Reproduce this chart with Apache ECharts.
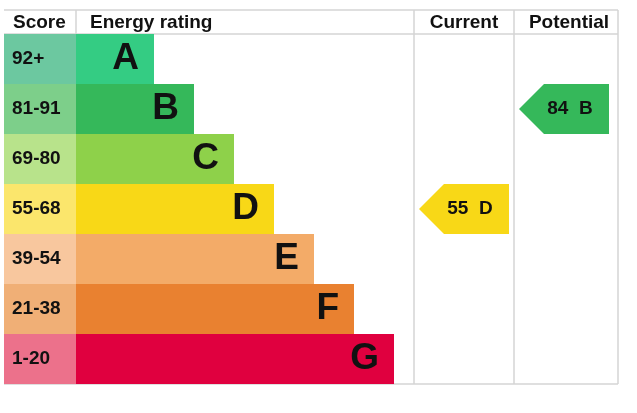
<!DOCTYPE html>
<html>
<head>
<meta charset="utf-8">
<title>Energy rating</title>
<script src="https://cdn.jsdelivr.net/npm/echarts@6/dist/echarts.min.js"></script>
<style>
  html, body { margin: 0; padding: 0; background: #fff; }
  #chart { width: 637px; height: 413px; }
</style>
</head>
<body>
<div id="chart"></div>
<script>
// bands, top to bottom
var bands = ['A', 'B', 'C', 'D', 'E', 'F', 'G'];
var scoreRanges = ['92+', '81-91', '69-80', '55-68', '39-54', '21-38', '1-20'];
var barLengths = [78, 118, 158, 198, 238, 278, 318];
var scoreColors = ['#6cc8a0', '#7dcf8a', '#b8e38b', '#fbe66c', '#f8c79e', '#f0af76', '#ec718b'];
var bandColors = ['#34cc83', '#35b85a', '#8ed14a', '#f8d817', '#f3ab68', '#e98130', '#e0003f'];
var headers = ['Score', 'Energy rating', 'Current', 'Potential'];
var currentScore = 55, currentBand = 'D';
var potentialScore = 84, potentialBand = 'B';

// table layout (pixels)
var L = 4, R = 618, TOP = 10, HEAD = 34, BOTTOM = 384;
var scoreW = 72;           // score column width
var colCurrent = 414, colPotential = 514;
var font = '"Liberation Sans", Arial, Helvetica, sans-serif';
var lineColor = '#d4d4d4';

var arrowLabels = [currentScore + '  ' + currentBand, potentialScore + '  ' + potentialBand];
var arrowColors = [bandColors[bands.indexOf(currentBand)], bandColors[bands.indexOf(potentialBand)]];

var chart = echarts.init(document.getElementById('chart'));

function arrowItem(params, api) {
  var row = api.value(0);
  var x0 = api.value(1), x1 = api.value(2);
  var p0 = api.coord([x0, row]);
  var p1 = api.coord([x1, row]);
  var h = api.size([0, 1])[1];
  var top = p0[1] - h / 2, bot = p0[1] + h / 2;
  var shoulder = p0[0] + 25;
  return {
    type: 'group',
    children: [{
      type: 'polygon',
      shape: { points: [[p0[0], p0[1]], [shoulder, top], [p1[0], top], [p1[0], bot], [shoulder, bot]] },
      style: { fill: arrowColors[params.dataIndex] }
    }, {
      type: 'text',
      style: {
        x: (p0[0] + p1[0]) / 2 + 6, y: p0[1],
        text: arrowLabels[params.dataIndex],
        fill: '#111', font: 'bold 19px ' + font,
        align: 'center', verticalAlign: 'middle'
      }
    }]
  };
}

function hline(y) {
  return { type: 'line', shape: { x1: L, y1: y, x2: R, y2: y }, style: { stroke: lineColor, lineWidth: 1.5 } };
}
function vline(x, y2) {
  return { type: 'line', shape: { x1: x, y1: TOP, x2: x, y2: y2 }, style: { stroke: lineColor, lineWidth: 1.5 } };
}
function headText(x, text, align) {
  return { type: 'text', style: { x: x, y: (TOP + HEAD) / 2 + 1, text: text, font: 'bold 19px ' + font, fill: '#111', align: align, verticalAlign: 'middle' } };
}

chart.setOption({
  animation: false,
  grid: { left: L, right: 637 - R, top: HEAD, bottom: 413 - BOTTOM },
  xAxis: { type: 'value', min: 0, max: R - L, show: false },
  yAxis: { type: 'category', data: bands, inverse: true, show: false },
  graphic: [
    hline(TOP), hline(HEAD), hline(BOTTOM),
    vline(L + scoreW, HEAD), vline(colCurrent, BOTTOM), vline(colPotential, BOTTOM), vline(R, BOTTOM),
    headText(L + 9, headers[0], 'left'),
    headText(L + scoreW + 14, headers[1], 'left'),
    headText((colCurrent + colPotential) / 2, headers[2], 'center'),
    headText((colPotential + R) / 2 + 3, headers[3], 'center')
  ],
  series: [{
    name: 'Score',
    type: 'bar',
    stack: 'row',
    barWidth: '100%',
    barCategoryGap: '0%',
    data: scoreRanges.map(function (s, i) {
      return { value: scoreW, itemStyle: { color: scoreColors[i] } };
    }),
    label: {
      show: true, position: 'insideLeft', distance: 8,
      formatter: function (p) { return scoreRanges[p.dataIndex]; },
      color: '#111', fontFamily: font, fontWeight: 'bold', fontSize: 19
    }
  }, {
    name: 'Energy rating',
    type: 'bar',
    stack: 'row',
    barWidth: '100%',
    data: barLengths.map(function (v, i) {
      return { value: v, itemStyle: { color: bandColors[i] } };
    }),
    label: {
      show: true, position: 'insideRight', distance: 15,
      formatter: function (p) { return bands[p.dataIndex]; },
      color: '#111', fontFamily: font, fontWeight: 'bold', fontSize: 37
    }
  }, {
    name: 'Rating arrows',
    type: 'custom',
    renderItem: arrowItem,
    data: [
      [bands.indexOf(currentBand), colCurrent - L + 5, colCurrent - L + 95],
      [bands.indexOf(potentialBand), colPotential - L + 5, colPotential - L + 95]
    ]
  }]
});
</script>
</body>
</html>
